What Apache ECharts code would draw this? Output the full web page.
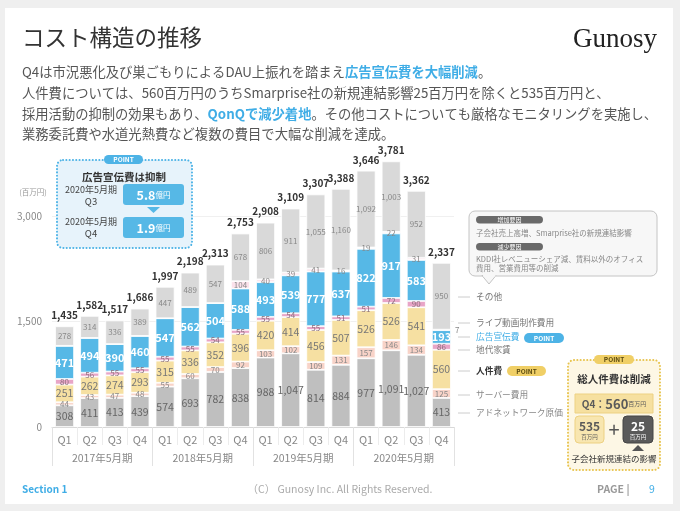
<!DOCTYPE html>
<html><head><meta charset="utf-8">
<script src="https://cdn.jsdelivr.net/npm/echarts@6/dist/echarts.min.js"></script>
<style>html,body{margin:0;padding:0;background:#efefef}#c{width:680px;height:511px}</style>
</head><body><div id="c"></div>
<script>
// ---- data ----
const quarters = ['Q1','Q2','Q3','Q4','Q1','Q2','Q3','Q4','Q1','Q2','Q3','Q4','Q1','Q2','Q3','Q4'];
const fiscalYears = ['2017年5月期','2018年5月期','2019年5月期','2020年5月期'];
const adNetwork   = [308,411,413,439,574,693,782,838,988,1047,814,884,977,1091,1027,413];
const server      = [44,43,47,48,55,60,70,92,103,102,109,131,157,146,134,125];
const personnel   = [251,262,274,293,315,336,352,396,420,414,456,507,526,526,541,560];
const rent        = [80,56,55,55,55,55,54,55,55,54,55,51,51,72,90,86];
const advertising = [471,494,390,460,547,562,504,588,493,539,777,637,822,917,583,193];
const liveVideo   = [0,0,0,0,0,0,0,104,40,39,41,16,19,22,31,7];
const other       = [278,314,336,389,447,489,547,678,806,911,1055,1160,1092,1003,952,950];
const totals      = [1435,1582,1517,1686,1997,2198,2313,2753,2908,3109,3307,3388,3646,3781,3362,2337];
const yTickLabels = [0,1500,3000];

const FONT = '"Noto Sans CJK JP","Noto Sans",sans-serif';
const fmt = v => Number(v).toLocaleString('en-US');

function seg(name, data, color, lbl) {
  return {
    name, type:'bar', stack:'cost', data, barWidth:19,
    itemStyle:{color, borderColor:'#fff', borderWidth:0.8},
    label:Object.assign({show:true, position:'inside', fontFamily:FONT,
      formatter:p => { const v = (p.value && p.value.value!==undefined)?p.value.value:p.value; return v ? fmt(v) : ''; }}, lbl),
    labelLayout:{hideOverlap:false},
    emphasis:{disabled:true}, silent:true
  };
}

const liveData = liveVideo.map((v,i) => i === liveVideo.length-1
  ? {value:v, label:{position:'right', distance:4}} : v);

const series = [
  seg('アドネットワーク原価', adNetwork, '#bfbfbf', {color:'#666', fontSize:10.5}),
  seg('サーバー費用', server, '#f8d3c8', {color:'#888', fontSize:8}),
  seg('人件費', personnel, '#f6e0a2', {color:'#777', fontSize:10.5}),
  seg('地代家賃', rent, '#e8a5c7', {color:'#8a6f7c', fontSize:8}),
  seg('広告宣伝費', advertising, '#56b8e6', {color:'#fff', fontSize:11, fontWeight:'bold'}),
  seg('ライブ動画制作費用', liveData, '#fbe1ea', {color:'#888', fontSize:8}),
  seg('その他', other, '#d9d9d9', {color:'#888', fontSize:8}),
  {
    name:'合計', type:'bar', stack:'cost', barWidth:19, silent:true,
    data: totals.map(() => 0),
    itemStyle:{color:'transparent'},
    label:{show:true, position:'top', distance:6, fontFamily:FONT, fontSize:10, fontWeight:'bold', color:'#333',
      formatter:p => fmt(totals[p.dataIndex])}
  }
];

const T = (text, x, y, o) => ({type:'text', z:100, style:Object.assign({text, x, y, font:'10px '+FONT, fill:'#777', align:'left', verticalAlign:'middle'}, o||{})});
const R = (x, y, w, h, style, r) => ({type:'rect', z:99, shape:{x, y, width:w, height:h, r:r||0}, style});
const P = (points, style, z) => ({type:'polygon', z:z||100, shape:{points}, style: typeof style === 'string' ? {fill:style} : style});
const L = (x1, y1, x2, y2, stroke) => ({type:'line', z:99, shape:{x1,y1,x2,y2}, style:{stroke, lineWidth:1}});

const blue = '#3fade6';
const LF = '8.7px ';
const BF = '13.3px ';
const graphic = [
  // slide background
  {type:'rect', z:-100, shape:{x:5, y:8, width:668, height:496}, style:{fill:'#fff'}},
  T('コスト構造の推移', 22, 37, {font:'22.5px '+FONT, fill:'#333'}),
  T('Gunosy', 657, 40, {font:'27px "Liberation Serif","DejaVu Serif",serif', fill:'#222', align:'right'}),
  T('Q4は市況悪化及び巣ごもりによるDAU上振れを踏まえ{b|広告宣伝費を大幅削減}。', 22, 72,
    {font:BF+FONT, fill:'#555', rich:{b:{font:'bold '+BF+FONT, fill:blue}}}),
  T('人件費については、560百万円のうちSmarprise社の新規連結影響25百万円を除くと535百万円と、', 22, 93, {font:BF+FONT, fill:'#555'}),
  T('採用活動の抑制の効果もあり、{b|QonQで減少着地}。その他コストについても厳格なモニタリングを実施し、', 22, 114,
    {font:BF+FONT, fill:'#555', rich:{b:{font:'bold '+BF+FONT, fill:blue}}}),
  T('業務委託費や水道光熱費など複数の費目で大幅な削減を達成。', 22, 134, {font:BF+FONT, fill:'#555'}),
  T('(百万円)', 33, 192, {font:'7.5px '+FONT, fill:'#999', align:'center'}),

  // left POINT box
  R(57, 160, 135, 88, {fill:'#e7f3fb', stroke:'#4db3e6', lineWidth:2, lineDash:[0.1,3.2], lineCap:'round'}, 6),
  R(104, 155, 39, 9, {fill:'#4db3e6'}, 4.5),
  T('POINT', 123.5, 159.8, {font:'bold 6.5px '+FONT, fill:'#fff', align:'center'}),
  T('広告宣伝費は抑制', 124, 177, {font:'bold 10.5px '+FONT, fill:'#333', align:'center'}),
  T('2020年5月期', 91, 190, {font:'9px '+FONT, fill:'#444', align:'center'}),
  T('Q3', 91, 201, {font:'9.5px '+FONT, fill:'#444', align:'center'}),
  R(123, 184, 61, 21, {fill:'#56b8e6'}, 3),
  T('{a|5.8}{b|億円}', 153.5, 195, {fill:'#fff', align:'center', rich:{a:{font:'bold 12.5px '+FONT, fill:'#fff'}, b:{font:'7.5px '+FONT, fill:'#fff'}}}),
  P([[147,207],[160,207],[153.5,213]], '#56b8e6'),
  T('2020年5月期', 91, 222, {font:'9px '+FONT, fill:'#444', align:'center'}),
  T('Q4', 91, 233, {font:'9.5px '+FONT, fill:'#444', align:'center'}),
  R(123, 217, 61, 21, {fill:'#56b8e6'}, 3),
  T('{a|1.9}{b|億円}', 153.5, 228, {fill:'#fff', align:'center', rich:{a:{font:'bold 12.5px '+FONT, fill:'#fff'}, b:{font:'7.5px '+FONT, fill:'#fff'}}}),

  // right callout
  R(469, 211, 188, 65, {fill:'#f7f7f7', stroke:'#c4c4c4', lineWidth:1}, 6),
  P([[482,275.5],[489,284],[496,275.5]], {fill:'#f7f7f7', stroke:'#c4c4c4', lineWidth:1}, 99),
  R(483, 274, 12.5, 2.5, {fill:'#f7f7f7'}, 0),
  R(476, 216, 67, 7.5, {fill:'#6a6a6a'}, 3.7),
  T('増加要因', 509.5, 220, {font:'6px '+FONT, fill:'#fff', align:'center'}),
  T('子会社売上高増、Smarprise社の新規連結影響', 476, 233, {font:'7.5px '+FONT, fill:'#888'}),
  R(476, 243, 67, 7.5, {fill:'#6a6a6a'}, 3.7),
  T('減少要因', 509.5, 247, {font:'6px '+FONT, fill:'#fff', align:'center'}),
  T('KDDI社レベニューシェア減、賃料以外のオフィス', 476, 259, {font:'7.5px '+FONT, fill:'#888'}),
  T('費用、営業費用等の削減', 476, 268, {font:'7.5px '+FONT, fill:'#888'}),

  // legend labels
  L(458, 297, 470, 297, '#ccc'), T('その他', 476, 297, {font:LF+FONT, fill:'#777'}),
  L(458, 323, 470, 323, '#ccc'), T('ライブ動画制作費用', 476, 323, {font:LF+FONT, fill:'#777'}),
  L(458, 337, 470, 337, '#ccc'), T('広告宣伝費', 476, 337, {font:LF+FONT, fill:blue}),
  R(524, 333, 40, 10, {fill:'#4db3e6'}, 5),
  T('POINT', 544, 338.2, {font:'bold 6.5px '+FONT, fill:'#fff', align:'center'}),
  L(458, 350, 470, 350, '#ccc'), T('地代家賃', 476, 350, {font:LF+FONT, fill:'#777'}),
  L(458, 371, 470, 371, '#ccc'), T('人件費', 476, 371, {font:'bold '+LF+FONT, fill:'#333'}),
  R(507, 366, 39, 10, {fill:'#f0cf66'}, 5),
  T('POINT', 526.5, 371.2, {font:'bold 6.5px '+FONT, fill:'#5a4a10', align:'center'}),
  L(458, 395, 470, 395, '#ccc'), T('サーバー費用', 476, 395, {font:LF+FONT, fill:'#888'}),
  L(458, 413, 470, 413, '#ccc'), T('アドネットワーク原価', 476, 413, {font:LF+FONT, fill:'#888'}),

  // bottom-right POINT box
  R(568, 360, 92, 110, {fill:'#fdf7e5', stroke:'#e8c44e', lineWidth:2, lineDash:[0.1,3.2], lineCap:'round'}, 6),
  R(594, 355, 40, 9, {fill:'#f0cf66'}, 4.5),
  T('POINT', 614, 359.8, {font:'bold 6.5px '+FONT, fill:'#5a4a10', align:'center'}),
  T('総人件費は削減', 614, 379, {font:'bold 10.5px '+FONT, fill:'#333', align:'center'}),
  R(575, 394, 78, 19, {fill:'#f6e0a0', stroke:'#edd182', lineWidth:1}, 0),
  T('{a|Q4：}{b|560}{c|百万円}', 614, 404, {align:'center', rich:{a:{font:'bold 10px '+FONT, fill:'#5a5a5a'}, b:{font:'bold 13px '+FONT, fill:'#5a5a5a'}, c:{font:'6px '+FONT, fill:'#5a5a5a'}}}),
  R(575, 416, 29, 27, {fill:'#f8e6b0', stroke:'#edd182', lineWidth:1}, 4),
  T('535', 589.5, 426, {font:'bold 12px '+FONT, fill:'#5a5a5a', align:'center'}),
  T('百万円', 589.5, 437, {font:'5.5px '+FONT, fill:'#5a5a5a', align:'center'}),
  T('+', 614, 429, {font:'20px '+FONT, fill:'#555', align:'center'}),
  R(623, 416, 30, 27, {fill:'#5a5a5a', stroke:'#444', lineWidth:1}, 4),
  T('25', 638, 426, {font:'bold 12px '+FONT, fill:'#fff', align:'center'}),
  T('百万円', 638, 437, {font:'5.5px '+FONT, fill:'#fff', align:'center'}),
  P([[632,451],[644,451],[638,445]], '#555'),
  T('子会社新規連結の影響', 614, 459, {font:'8.5px '+FONT, fill:'#333', align:'center'}),

  // footer
  T('Section 1', 22, 489, {font:'bold 10px '+FONT, fill:blue}),
  T('（C） Gunosy Inc. All Rights Reserved.', 340, 489, {font:'10.5px '+FONT, fill:'#aaa', align:'center'}),
  T('PAGE |', 597, 489, {font:'bold 10.5px '+FONT, fill:'#999'}),
  T('9', 652, 489, {font:'10.5px '+FONT, fill:blue, align:'center'})
];

const chart = echarts.init(document.getElementById('c'), null, {renderer:'canvas'});
chart.setOption({
  animation:false,
  backgroundColor:'transparent',
  textStyle:{fontFamily:FONT},
  grid:{left:52, right:226, top:110.5, bottom:84, containLabel:false},
  xAxis:[
    {type:'category', data:quarters, position:'bottom',
     axisLine:{lineStyle:{color:'#d8d8d8'}},
     axisTick:{show:true, length:18, interval:0, lineStyle:{color:'#ececec'}},
     axisLabel:{color:'#888', fontSize:11, margin:7, interval:0, fontFamily:FONT}},
    {type:'category', data:fiscalYears, position:'bottom', offset:0,
     axisLine:{show:false},
     axisTick:{show:true, length:39, interval:0, lineStyle:{color:'#e2e2e2'}},
     axisLabel:{color:'#888', fontSize:10.5, margin:26, interval:0, fontFamily:FONT}}
  ],
  yAxis:{type:'value', min:0, max:4500, interval:1500,
    axisLine:{show:false}, axisTick:{show:false},
    splitLine:{show:true, showMaxLine:false, lineStyle:{color:'#f0f0f0'}},
    axisLabel:{color:'#888', fontSize:10, margin:10, fontFamily:FONT,
      formatter:v => yTickLabels.includes(v) ? fmt(v) : ''}},
  series,
  graphic
});
</script></body></html>
